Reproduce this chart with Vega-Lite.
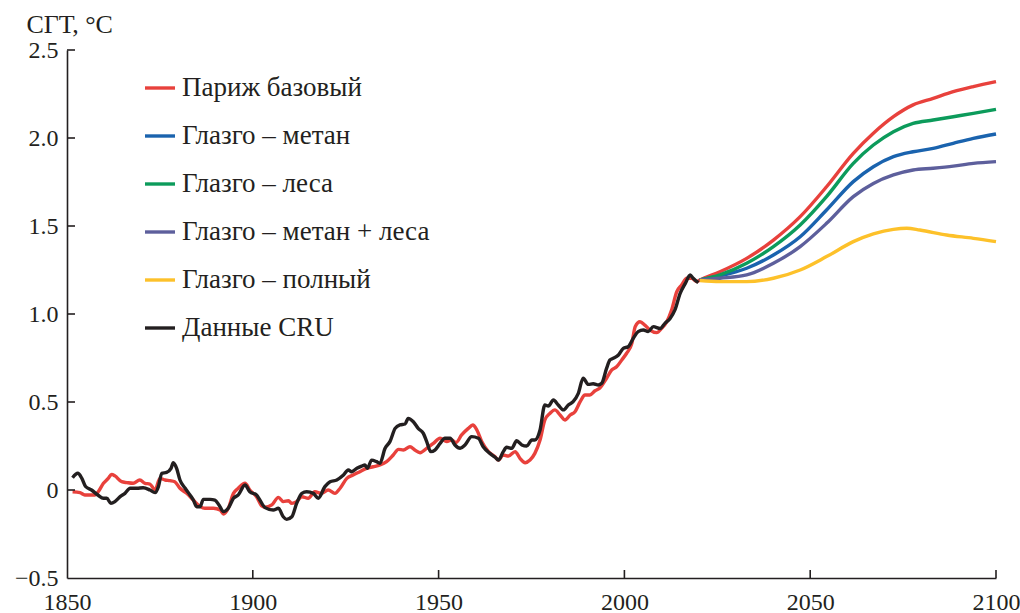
{
  "$schema": "https://vega.github.io/schema/vega-lite/v6.json",
  "width": 929,
  "height": 528,
  "autosize": {"type": "none"},
  "padding": {"left": 67, "top": 50, "right": 24, "bottom": 35},
  "background": "white",
  "config": {"view": {"stroke": null}, "font": "Liberation Serif"},
  "datasets": {
    "d": [
      {"s": "Париж базовый", "year": 1851.5, "t": -0.01},
      {"s": "Париж базовый", "year": 1853.5, "t": -0.015},
      {"s": "Париж базовый", "year": 1854.8, "t": -0.028},
      {"s": "Париж базовый", "year": 1857.5, "t": -0.028},
      {"s": "Париж базовый", "year": 1858.4, "t": -0.01},
      {"s": "Париж базовый", "year": 1859.8, "t": 0.038},
      {"s": "Париж базовый", "year": 1861.1, "t": 0.066},
      {"s": "Париж базовый", "year": 1862, "t": 0.089},
      {"s": "Париж базовый", "year": 1862.9, "t": 0.08},
      {"s": "Париж базовый", "year": 1864.7, "t": 0.047},
      {"s": "Париж базовый", "year": 1866.1, "t": 0.042},
      {"s": "Париж базовый", "year": 1867.8, "t": 0.038},
      {"s": "Париж базовый", "year": 1869.6, "t": 0.057},
      {"s": "Париж базовый", "year": 1871, "t": 0.038},
      {"s": "Париж базовый", "year": 1872.3, "t": 0.034},
      {"s": "Париж базовый", "year": 1873.7, "t": 0.0},
      {"s": "Париж базовый", "year": 1875, "t": 0.066},
      {"s": "Париж базовый", "year": 1876.4, "t": 0.057},
      {"s": "Париж базовый", "year": 1877.7, "t": 0.053},
      {"s": "Париж базовый", "year": 1879, "t": 0.047},
      {"s": "Париж базовый", "year": 1880.4, "t": 0.01},
      {"s": "Париж базовый", "year": 1882.2, "t": -0.019},
      {"s": "Париж базовый", "year": 1884, "t": -0.057},
      {"s": "Париж базовый", "year": 1885.3, "t": -0.085},
      {"s": "Париж базовый", "year": 1887.1, "t": -0.104},
      {"s": "Париж базовый", "year": 1889.4, "t": -0.104},
      {"s": "Париж базовый", "year": 1891.2, "t": -0.114},
      {"s": "Париж базовый", "year": 1892.1, "t": -0.136},
      {"s": "Париж базовый", "year": 1893.4, "t": -0.104},
      {"s": "Париж базовый", "year": 1894.8, "t": -0.019},
      {"s": "Париж базовый", "year": 1896.1, "t": 0.01},
      {"s": "Париж базовый", "year": 1897.9, "t": 0.038},
      {"s": "Париж базовый", "year": 1899.2, "t": 0.0},
      {"s": "Париж базовый", "year": 1901, "t": -0.038},
      {"s": "Париж базовый", "year": 1902.5, "t": -0.092},
      {"s": "Париж базовый", "year": 1903.3, "t": -0.098},
      {"s": "Париж базовый", "year": 1905.1, "t": -0.085},
      {"s": "Париж базовый", "year": 1906.9, "t": -0.042},
      {"s": "Париж базовый", "year": 1908.2, "t": -0.066},
      {"s": "Париж базовый", "year": 1909.6, "t": -0.061},
      {"s": "Париж базовый", "year": 1910.5, "t": -0.076},
      {"s": "Париж базовый", "year": 1911.8, "t": -0.066},
      {"s": "Париж базовый", "year": 1913.2, "t": -0.038},
      {"s": "Париж базовый", "year": 1914.9, "t": -0.047},
      {"s": "Париж базовый", "year": 1916.7, "t": -0.01},
      {"s": "Париж базовый", "year": 1918.5, "t": -0.019},
      {"s": "Париж базовый", "year": 1920.3, "t": 0.0},
      {"s": "Париж базовый", "year": 1922.1, "t": -0.019},
      {"s": "Париж базовый", "year": 1923.5, "t": 0.01},
      {"s": "Париж базовый", "year": 1925.3, "t": 0.066},
      {"s": "Париж базовый", "year": 1927, "t": 0.085},
      {"s": "Париж базовый", "year": 1928.8, "t": 0.104},
      {"s": "Париж базовый", "year": 1930.6, "t": 0.123},
      {"s": "Париж базовый", "year": 1932.4, "t": 0.132},
      {"s": "Париж базовый", "year": 1934.2, "t": 0.142},
      {"s": "Париж базовый", "year": 1936, "t": 0.161},
      {"s": "Париж базовый", "year": 1937.8, "t": 0.199},
      {"s": "Париж базовый", "year": 1939.2, "t": 0.231},
      {"s": "Париж базовый", "year": 1940.5, "t": 0.227},
      {"s": "Париж базовый", "year": 1942.3, "t": 0.246},
      {"s": "Париж базовый", "year": 1943.6, "t": 0.227},
      {"s": "Париж базовый", "year": 1945, "t": 0.212},
      {"s": "Париж базовый", "year": 1946.8, "t": 0.237},
      {"s": "Париж базовый", "year": 1948.6, "t": 0.265},
      {"s": "Париж базовый", "year": 1950.4, "t": 0.294},
      {"s": "Париж базовый", "year": 1952.2, "t": 0.275},
      {"s": "Париж базовый", "year": 1953.5, "t": 0.284},
      {"s": "Париж базовый", "year": 1954.7, "t": 0.27},
      {"s": "Париж базовый", "year": 1956.2, "t": 0.313},
      {"s": "Париж базовый", "year": 1958, "t": 0.35},
      {"s": "Париж базовый", "year": 1959.2, "t": 0.369},
      {"s": "Париж базовый", "year": 1960.3, "t": 0.341},
      {"s": "Париж базовый", "year": 1961.6, "t": 0.275},
      {"s": "Париж базовый", "year": 1963.4, "t": 0.218},
      {"s": "Париж базовый", "year": 1965.2, "t": 0.189},
      {"s": "Париж базовый", "year": 1966.1, "t": 0.17},
      {"s": "Париж базовый", "year": 1967.4, "t": 0.199},
      {"s": "Париж базовый", "year": 1968.8, "t": 0.193},
      {"s": "Париж базовый", "year": 1970.6, "t": 0.218},
      {"s": "Париж базовый", "year": 1971.9, "t": 0.18},
      {"s": "Париж базовый", "year": 1973.3, "t": 0.155},
      {"s": "Париж базовый", "year": 1974.6, "t": 0.17},
      {"s": "Париж базовый", "year": 1975.9, "t": 0.208},
      {"s": "Париж базовый", "year": 1977.3, "t": 0.284},
      {"s": "Париж базовый", "year": 1978.6, "t": 0.398},
      {"s": "Париж базовый", "year": 1980, "t": 0.436},
      {"s": "Париж базовый", "year": 1981.3, "t": 0.455},
      {"s": "Париж базовый", "year": 1982.7, "t": 0.426},
      {"s": "Париж базовый", "year": 1984, "t": 0.398},
      {"s": "Париж базовый", "year": 1985.4, "t": 0.426},
      {"s": "Париж базовый", "year": 1986.7, "t": 0.445},
      {"s": "Париж базовый", "year": 1988.1, "t": 0.502},
      {"s": "Париж базовый", "year": 1989.4, "t": 0.54},
      {"s": "Париж базовый", "year": 1990.7, "t": 0.54},
      {"s": "Париж базовый", "year": 1992.1, "t": 0.564},
      {"s": "Париж базовый", "year": 1993.4, "t": 0.58},
      {"s": "Париж базовый", "year": 1995.2, "t": 0.635},
      {"s": "Париж базовый", "year": 1996.6, "t": 0.682},
      {"s": "Париж базовый", "year": 1997.9, "t": 0.7},
      {"s": "Париж базовый", "year": 1999.3, "t": 0.739},
      {"s": "Париж базовый", "year": 2000.6, "t": 0.777},
      {"s": "Париж базовый", "year": 2002, "t": 0.833},
      {"s": "Париж базовый", "year": 2002.9, "t": 0.928},
      {"s": "Париж базовый", "year": 2004.2, "t": 0.956},
      {"s": "Париж базовый", "year": 2005.5, "t": 0.937},
      {"s": "Париж базовый", "year": 2006.9, "t": 0.909},
      {"s": "Париж базовый", "year": 2008.7, "t": 0.894},
      {"s": "Париж базовый", "year": 2010, "t": 0.918},
      {"s": "Париж базовый", "year": 2011.4, "t": 0.956},
      {"s": "Париж базовый", "year": 2012.7, "t": 1.023},
      {"s": "Париж базовый", "year": 2014.1, "t": 1.127},
      {"s": "Париж базовый", "year": 2015.4, "t": 1.165},
      {"s": "Париж базовый", "year": 2016.8, "t": 1.203},
      {"s": "Париж базовый", "year": 2018.1, "t": 1.203},
      {"s": "Париж базовый", "year": 2019.5, "t": 1.184},
      {"s": "Париж базовый", "year": 2020.3, "t": 1.193},
      {"s": "Париж базовый", "year": 2025.7, "t": 1.24},
      {"s": "Париж базовый", "year": 2032.9, "t": 1.316},
      {"s": "Париж базовый", "year": 2040.1, "t": 1.42},
      {"s": "Париж базовый", "year": 2047.3, "t": 1.553},
      {"s": "Париж базовый", "year": 2054.4, "t": 1.723},
      {"s": "Париж базовый", "year": 2061.6, "t": 1.913},
      {"s": "Париж базовый", "year": 2067, "t": 2.027},
      {"s": "Париж базовый", "year": 2072.4, "t": 2.121},
      {"s": "Париж базовый", "year": 2077.7, "t": 2.188},
      {"s": "Париж базовый", "year": 2083.1, "t": 2.225},
      {"s": "Париж базовый", "year": 2088.5, "t": 2.263},
      {"s": "Париж базовый", "year": 2093.9, "t": 2.292},
      {"s": "Париж базовый", "year": 2100, "t": 2.32},
      {"s": "Глазго – метан", "year": 2020.3, "t": 1.193},
      {"s": "Глазго – метан", "year": 2025.7, "t": 1.216},
      {"s": "Глазго – метан", "year": 2032.9, "t": 1.26},
      {"s": "Глазго – метан", "year": 2040.1, "t": 1.335},
      {"s": "Глазго – метан", "year": 2047.3, "t": 1.439},
      {"s": "Глазго – метан", "year": 2054.4, "t": 1.591},
      {"s": "Глазго – метан", "year": 2061.6, "t": 1.752},
      {"s": "Глазго – метан", "year": 2067, "t": 1.837},
      {"s": "Глазго – метан", "year": 2072.4, "t": 1.894},
      {"s": "Глазго – метан", "year": 2077.7, "t": 1.922},
      {"s": "Глазго – метан", "year": 2083.1, "t": 1.941},
      {"s": "Глазго – метан", "year": 2088.5, "t": 1.97},
      {"s": "Глазго – метан", "year": 2093.9, "t": 1.998},
      {"s": "Глазго – метан", "year": 2100, "t": 2.023},
      {"s": "Глазго – леса", "year": 2020.3, "t": 1.193},
      {"s": "Глазго – леса", "year": 2025.7, "t": 1.222},
      {"s": "Глазго – леса", "year": 2032.9, "t": 1.288},
      {"s": "Глазго – леса", "year": 2040.1, "t": 1.383},
      {"s": "Глазго – леса", "year": 2047.3, "t": 1.506},
      {"s": "Глазго – леса", "year": 2054.4, "t": 1.667},
      {"s": "Глазго – леса", "year": 2061.6, "t": 1.856},
      {"s": "Глазго – леса", "year": 2067, "t": 1.96},
      {"s": "Глазго – леса", "year": 2072.4, "t": 2.036},
      {"s": "Глазго – леса", "year": 2077.7, "t": 2.083},
      {"s": "Глазго – леса", "year": 2083.1, "t": 2.102},
      {"s": "Глазго – леса", "year": 2088.5, "t": 2.121},
      {"s": "Глазго – леса", "year": 2093.9, "t": 2.14},
      {"s": "Глазго – леса", "year": 2100, "t": 2.163},
      {"s": "Глазго – метан + леса", "year": 2020.3, "t": 1.193},
      {"s": "Глазго – метан + леса", "year": 2025.7, "t": 1.203},
      {"s": "Глазго – метан + леса", "year": 2032.9, "t": 1.222},
      {"s": "Глазго – метан + леса", "year": 2040.1, "t": 1.288},
      {"s": "Глазго – метан + леса", "year": 2047.3, "t": 1.383},
      {"s": "Глазго – метан + леса", "year": 2054.4, "t": 1.515},
      {"s": "Глазго – метан + леса", "year": 2061.6, "t": 1.667},
      {"s": "Глазго – метан + леса", "year": 2067, "t": 1.742},
      {"s": "Глазго – метан + леса", "year": 2072.4, "t": 1.79},
      {"s": "Глазго – метан + леса", "year": 2077.7, "t": 1.818},
      {"s": "Глазго – метан + леса", "year": 2083.1, "t": 1.828},
      {"s": "Глазго – метан + леса", "year": 2088.5, "t": 1.84},
      {"s": "Глазго – метан + леса", "year": 2093.9, "t": 1.856},
      {"s": "Глазго – метан + леса", "year": 2100, "t": 1.866},
      {"s": "Глазго – полный", "year": 2020.3, "t": 1.19},
      {"s": "Глазго – полный", "year": 2025.7, "t": 1.184},
      {"s": "Глазго – полный", "year": 2032.9, "t": 1.184},
      {"s": "Глазго – полный", "year": 2040.1, "t": 1.203},
      {"s": "Глазго – полный", "year": 2047.3, "t": 1.25},
      {"s": "Глазго – полный", "year": 2054.4, "t": 1.326},
      {"s": "Глазго – полный", "year": 2061.6, "t": 1.411},
      {"s": "Глазго – полный", "year": 2067, "t": 1.455},
      {"s": "Глазго – полный", "year": 2072.4, "t": 1.481},
      {"s": "Глазго – полный", "year": 2076, "t": 1.487},
      {"s": "Глазго – полный", "year": 2079.5, "t": 1.477},
      {"s": "Глазго – полный", "year": 2086.7, "t": 1.449},
      {"s": "Глазго – полный", "year": 2093.9, "t": 1.43},
      {"s": "Глазго – полный", "year": 2100, "t": 1.411},
      {"s": "Данные CRU", "year": 1851.5, "t": 0.07},
      {"s": "Данные CRU", "year": 1852.9, "t": 0.095},
      {"s": "Данные CRU", "year": 1854, "t": 0.066},
      {"s": "Данные CRU", "year": 1855, "t": 0.02},
      {"s": "Данные CRU", "year": 1856.6, "t": 0.0},
      {"s": "Данные CRU", "year": 1858.4, "t": -0.03},
      {"s": "Данные CRU", "year": 1859.8, "t": -0.047},
      {"s": "Данные CRU", "year": 1860.7, "t": -0.047},
      {"s": "Данные CRU", "year": 1861.8, "t": -0.076},
      {"s": "Данные CRU", "year": 1862.9, "t": -0.066},
      {"s": "Данные CRU", "year": 1864.3, "t": -0.038},
      {"s": "Данные CRU", "year": 1865.6, "t": -0.019},
      {"s": "Данные CRU", "year": 1867, "t": 0.01},
      {"s": "Данные CRU", "year": 1868.8, "t": 0.01},
      {"s": "Данные CRU", "year": 1870.5, "t": 0.013},
      {"s": "Данные CRU", "year": 1872.3, "t": 0.0},
      {"s": "Данные CRU", "year": 1873.7, "t": -0.015},
      {"s": "Данные CRU", "year": 1874.6, "t": 0.019},
      {"s": "Данные CRU", "year": 1875.5, "t": 0.095},
      {"s": "Данные CRU", "year": 1876.8, "t": 0.1},
      {"s": "Данные CRU", "year": 1878, "t": 0.123},
      {"s": "Данные CRU", "year": 1878.6, "t": 0.155},
      {"s": "Данные CRU", "year": 1879.5, "t": 0.123},
      {"s": "Данные CRU", "year": 1880.4, "t": 0.057},
      {"s": "Данные CRU", "year": 1881.8, "t": 0.01},
      {"s": "Данные CRU", "year": 1883.1, "t": -0.028},
      {"s": "Данные CRU", "year": 1884, "t": -0.057},
      {"s": "Данные CRU", "year": 1884.9, "t": -0.095},
      {"s": "Данные CRU", "year": 1885.8, "t": -0.095},
      {"s": "Данные CRU", "year": 1886.7, "t": -0.053},
      {"s": "Данные CRU", "year": 1888.5, "t": -0.053},
      {"s": "Данные CRU", "year": 1889.8, "t": -0.057},
      {"s": "Данные CRU", "year": 1890.9, "t": -0.085},
      {"s": "Данные CRU", "year": 1892.1, "t": -0.123},
      {"s": "Данные CRU", "year": 1893.4, "t": -0.104},
      {"s": "Данные CRU", "year": 1894.8, "t": -0.047},
      {"s": "Данные CRU", "year": 1896.1, "t": -0.028},
      {"s": "Данные CRU", "year": 1897.9, "t": 0.028},
      {"s": "Данные CRU", "year": 1899.2, "t": -0.01},
      {"s": "Данные CRU", "year": 1901, "t": -0.028},
      {"s": "Данные CRU", "year": 1901.9, "t": -0.057},
      {"s": "Данные CRU", "year": 1903.3, "t": -0.1},
      {"s": "Данные CRU", "year": 1905.5, "t": -0.114},
      {"s": "Данные CRU", "year": 1906.9, "t": -0.104},
      {"s": "Данные CRU", "year": 1908.2, "t": -0.152},
      {"s": "Данные CRU", "year": 1909.1, "t": -0.167},
      {"s": "Данные CRU", "year": 1910.5, "t": -0.152},
      {"s": "Данные CRU", "year": 1911.8, "t": -0.076},
      {"s": "Данные CRU", "year": 1913.2, "t": -0.019},
      {"s": "Данные CRU", "year": 1914.5, "t": -0.01},
      {"s": "Данные CRU", "year": 1916.3, "t": -0.019},
      {"s": "Данные CRU", "year": 1917.6, "t": -0.047},
      {"s": "Данные CRU", "year": 1919.4, "t": 0.019},
      {"s": "Данные CRU", "year": 1920.8, "t": 0.047},
      {"s": "Данные CRU", "year": 1922.6, "t": 0.057},
      {"s": "Данные CRU", "year": 1924.4, "t": 0.085},
      {"s": "Данные CRU", "year": 1925.7, "t": 0.114},
      {"s": "Данные CRU", "year": 1926.6, "t": 0.104},
      {"s": "Данные CRU", "year": 1928, "t": 0.123},
      {"s": "Данные CRU", "year": 1929.3, "t": 0.136},
      {"s": "Данные CRU", "year": 1930.2, "t": 0.142},
      {"s": "Данные CRU", "year": 1930.8, "t": 0.123},
      {"s": "Данные CRU", "year": 1932, "t": 0.17},
      {"s": "Данные CRU", "year": 1933.3, "t": 0.161},
      {"s": "Данные CRU", "year": 1934.2, "t": 0.152},
      {"s": "Данные CRU", "year": 1935.6, "t": 0.237},
      {"s": "Данные CRU", "year": 1936.9, "t": 0.275},
      {"s": "Данные CRU", "year": 1938.3, "t": 0.35},
      {"s": "Данные CRU", "year": 1939.6, "t": 0.37},
      {"s": "Данные CRU", "year": 1941, "t": 0.375},
      {"s": "Данные CRU", "year": 1941.8, "t": 0.407},
      {"s": "Данные CRU", "year": 1943.2, "t": 0.388},
      {"s": "Данные CRU", "year": 1944.5, "t": 0.35},
      {"s": "Данные CRU", "year": 1945.9, "t": 0.322},
      {"s": "Данные CRU", "year": 1946.8, "t": 0.275},
      {"s": "Данные CRU", "year": 1947.9, "t": 0.218},
      {"s": "Данные CRU", "year": 1949, "t": 0.227},
      {"s": "Данные CRU", "year": 1950.4, "t": 0.265},
      {"s": "Данные CRU", "year": 1951.7, "t": 0.294},
      {"s": "Данные CRU", "year": 1953.1, "t": 0.294},
      {"s": "Данные CRU", "year": 1954.4, "t": 0.256},
      {"s": "Данные CRU", "year": 1955.8, "t": 0.237},
      {"s": "Данные CRU", "year": 1957.1, "t": 0.256},
      {"s": "Данные CRU", "year": 1958.9, "t": 0.303},
      {"s": "Данные CRU", "year": 1960.7, "t": 0.294},
      {"s": "Данные CRU", "year": 1962, "t": 0.246},
      {"s": "Данные CRU", "year": 1963.8, "t": 0.208},
      {"s": "Данные CRU", "year": 1965.2, "t": 0.186},
      {"s": "Данные CRU", "year": 1966.1, "t": 0.17},
      {"s": "Данные CRU", "year": 1967.4, "t": 0.218},
      {"s": "Данные CRU", "year": 1968.3, "t": 0.243},
      {"s": "Данные CRU", "year": 1969.7, "t": 0.237},
      {"s": "Данные CRU", "year": 1971, "t": 0.28},
      {"s": "Данные CRU", "year": 1972.4, "t": 0.256},
      {"s": "Данные CRU", "year": 1973.7, "t": 0.25},
      {"s": "Данные CRU", "year": 1975.1, "t": 0.284},
      {"s": "Данные CRU", "year": 1975.9, "t": 0.284},
      {"s": "Данные CRU", "year": 1977.3, "t": 0.341},
      {"s": "Данные CRU", "year": 1978.6, "t": 0.483},
      {"s": "Данные CRU", "year": 1979.5, "t": 0.477},
      {"s": "Данные CRU", "year": 1980.9, "t": 0.511},
      {"s": "Данные CRU", "year": 1982.2, "t": 0.483},
      {"s": "Данные CRU", "year": 1983.6, "t": 0.455},
      {"s": "Данные CRU", "year": 1984.9, "t": 0.483},
      {"s": "Данные CRU", "year": 1986.2, "t": 0.502},
      {"s": "Данные CRU", "year": 1987.6, "t": 0.549},
      {"s": "Данные CRU", "year": 1988.9, "t": 0.635},
      {"s": "Данные CRU", "year": 1990.3, "t": 0.6},
      {"s": "Данные CRU", "year": 1991.6, "t": 0.604},
      {"s": "Данные CRU", "year": 1993, "t": 0.597},
      {"s": "Данные CRU", "year": 1993.9, "t": 0.606},
      {"s": "Данные CRU", "year": 1995.2, "t": 0.691},
      {"s": "Данные CRU", "year": 1996.1, "t": 0.739},
      {"s": "Данные CRU", "year": 1997, "t": 0.748},
      {"s": "Данные CRU", "year": 1998.4, "t": 0.767},
      {"s": "Данные CRU", "year": 1999.7, "t": 0.805},
      {"s": "Данные CRU", "year": 2001, "t": 0.814},
      {"s": "Данные CRU", "year": 2002.4, "t": 0.862},
      {"s": "Данные CRU", "year": 2003.7, "t": 0.9},
      {"s": "Данные CRU", "year": 2005.1, "t": 0.909},
      {"s": "Данные CRU", "year": 2006.4, "t": 0.9},
      {"s": "Данные CRU", "year": 2007.8, "t": 0.928},
      {"s": "Данные CRU", "year": 2009.6, "t": 0.918},
      {"s": "Данные CRU", "year": 2010.9, "t": 0.947},
      {"s": "Данные CRU", "year": 2012.3, "t": 0.975},
      {"s": "Данные CRU", "year": 2013.6, "t": 1.023},
      {"s": "Данные CRU", "year": 2015, "t": 1.117},
      {"s": "Данные CRU", "year": 2016.4, "t": 1.174},
      {"s": "Данные CRU", "year": 2017.7, "t": 1.222},
      {"s": "Данные CRU", "year": 2018.5, "t": 1.203},
      {"s": "Данные CRU", "year": 2019.9, "t": 1.178}
    ],
    "xticks": [{"v": 1900}, {"v": 1950}, {"v": 2000}, {"v": 2050}, {"v": 2100}],
    "yticks": [{"v": 0}, {"v": 0.5}, {"v": 1}, {"v": 1.5}, {"v": 2}, {"v": 2.5}]
  },
  "layer": [
    {
      "data": {"name": "d"},
      "mark": {"type": "line", "strokeWidth": 3.4, "interpolate": "monotone"},
      "encoding": {
        "x": {
          "field": "year",
          "type": "quantitative",
          "scale": {"domain": [1850, 2100], "nice": false, "zero": false},
          "axis": {
            "values": [1850, 1900, 1950, 2000, 2050, 2100],
            "format": "d",
            "title": null,
            "grid": false,
            "ticks": false,
            "labelPadding": 12,
            "labelFontSize": 24,
            "labelFont": "Liberation Serif",
            "labelColor": "#231F20",
            "labelFlush": false,
            "labelOverlap": false,
            "domainColor": "#231F20",
            "domainWidth": 1.6
          }
        },
        "y": {
          "field": "t",
          "type": "quantitative",
          "scale": {"domain": [-0.5, 2.5], "nice": false, "zero": false},
          "axis": {
            "values": [-0.5, 0, 0.5, 1, 1.5, 2, 2.5],
            "labelExpr": "datum.value === 0 ? '0' : format(datum.value, '.1f')",
            "title": "СГТ, °С",
            "titleAngle": 0,
            "titleX": -41,
            "titleY": -26,
            "titleAlign": "left",
            "titleBaseline": "middle",
            "titleFontSize": 26,
            "titleFontWeight": "normal",
            "titleFont": "Liberation Serif",
            "titleColor": "#231F20",
            "grid": false,
            "ticks": false,
            "labelPadding": 9,
            "labelFontSize": 24,
            "labelFont": "Liberation Serif",
            "labelColor": "#231F20",
            "labelFlush": false,
            "labelOverlap": false,
            "domainColor": "#231F20",
            "domainWidth": 1.6
          }
        },
        "color": {
          "field": "s",
          "type": "nominal",
          "scale": {
            "domain": ["Париж базовый", "Глазго – метан", "Глазго – леса", "Глазго – метан + леса", "Глазго – полный", "Данные CRU"],
            "range": ["#E8413C", "#1A63AE", "#0C9B5B", "#5D5F9C", "#FDC12A", "#231F20"]
          },
          "legend": {
            "orient": "none",
            "legendX": 76,
            "legendY": 21,
            "title": null,
            "symbolType": "stroke",
            "symbolSize": 900,
            "symbolStrokeWidth": 3.4,
            "labelFontSize": 27,
            "labelFont": "Liberation Serif",
            "labelColor": "#231F20",
            "labelOffset": 5,
            "labelLimit": 400,
            "rowPadding": 18,
            "padding": 0
          }
        }
      }
    },
    {
      "data": {"name": "xticks"},
      "mark": {"type": "rule", "color": "#231F20", "strokeWidth": 1.6, "y2Offset": -8},
      "encoding": {
        "x": {"field": "v", "type": "quantitative"},
        "y": {"datum": -0.5},
        "y2": {"datum": -0.5}
      }
    },
    {
      "data": {"name": "yticks"},
      "mark": {"type": "rule", "color": "#231F20", "strokeWidth": 1.6, "x2Offset": 8},
      "encoding": {
        "y": {"field": "v", "type": "quantitative"},
        "x": {"datum": 1850},
        "x2": {"datum": 1850}
      }
    }
  ]
}
